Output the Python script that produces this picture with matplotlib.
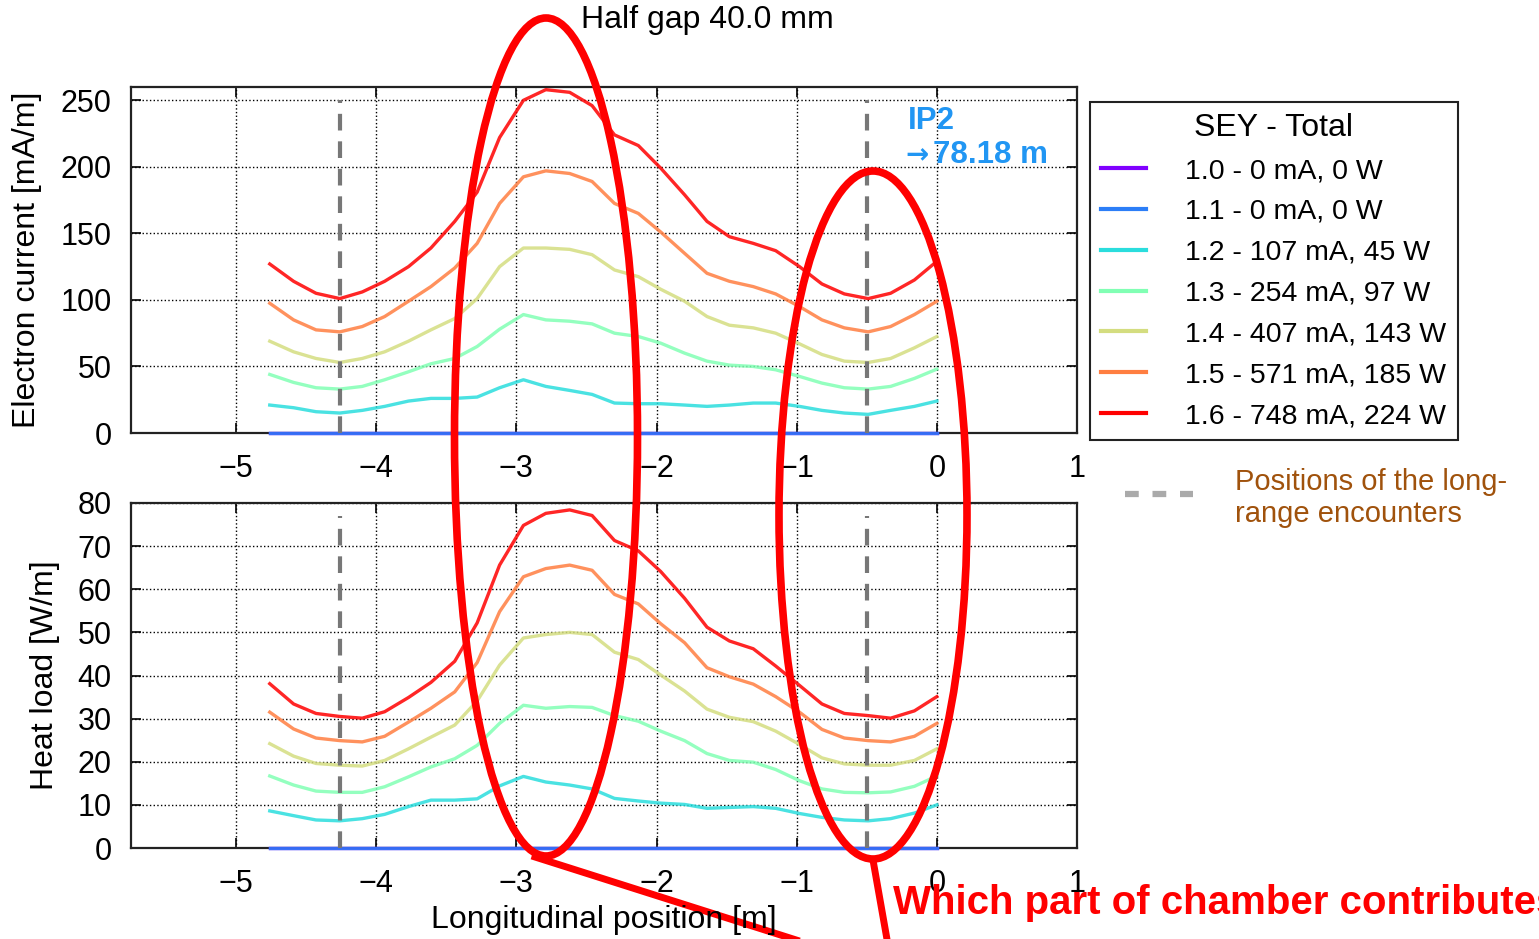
import numpy as np
import matplotlib
matplotlib.use('Agg')
from matplotlib import pyplot as plt
from matplotlib.patches import Ellipse
from matplotlib.lines import Line2D

plt.rcParams['font.family'] = ['Liberation Sans', 'DejaVu Sans']

# longitudinal positions [m]
pos = [-4.76, -4.59, -4.43, -4.26, -4.10, -3.94, -3.77, -3.61, -3.44, -3.28,
       -3.12, -2.95, -2.79, -2.62, -2.46, -2.30, -2.13, -1.97, -1.80, -1.64,
       -1.48, -1.31, -1.15, -0.98, -0.82, -0.66, -0.49, -0.33, -0.16, 0.0]

sey = ['1.0', '1.1', '1.2', '1.3', '1.4', '1.5', '1.6']
labels = ['1.0 - 0 mA, 0 W', '1.1 - 0 mA, 0 W', '1.2 - 107 mA, 45 W', '1.3 - 254 mA, 97 W',
          '1.4 - 407 mA, 143 W', '1.5 - 571 mA, 185 W', '1.6 - 748 mA, 224 W']

# electron current [mA/m]
cur_10 = [0] * 30
cur_11 = [0] * 30
cur_12 = [21, 19, 16, 15, 17, 20, 24, 26, 26, 27, 34, 40, 35, 32, 29, 22.5, 22, 22, 21, 20,
          21, 22.5, 22.5, 20, 17, 15, 14, 17, 20, 24]
cur_13 = [44, 38, 34, 33, 35, 40, 46, 52, 56, 65, 78, 89, 85, 84, 82, 75, 72.5, 67.5, 60, 54,
          51, 50, 47.5, 42.5, 37.5, 34, 33, 35, 41, 48]
cur_14 = [69, 61, 56, 53, 56, 61, 69, 77.5, 86, 101, 125, 139, 139, 138, 134, 122.5, 117.5, 108, 99, 87.5,
          81, 79, 75, 67, 59, 54, 53, 56, 64, 72.5]
cur_15 = [97.5, 85, 77.5, 76, 80, 87.5, 99, 110, 124, 142.5, 172.5, 192.5, 197, 195, 189, 172.5, 165, 151, 135, 120,
          114, 110, 104.5, 95, 85, 79, 76, 80, 89, 99]
cur_16 = [127, 114, 105, 101, 106, 114, 125, 139, 159, 181, 222, 250, 258, 256, 246, 224, 216, 199, 179, 159,
          147.5, 142.5, 137, 125, 112, 104.5, 101, 105, 115, 129]

# heat load [W/m]
heat_10 = [0] * 30
heat_11 = [0] * 30
heat_12 = [8.6, 7.5, 6.5, 6.3, 6.8, 7.8, 9.6, 11.1, 11.1, 11.4, 14.4, 16.6, 15.3, 14.6, 13.7, 11.5, 10.9, 10.4, 10.1, 9.2,
           9.4, 9.6, 9.2, 8.0, 7.1, 6.5, 6.3, 6.8, 8.1, 10.0]
heat_13 = [16.7, 14.6, 13.2, 12.9, 12.9, 14.2, 16.5, 18.8, 20.7, 23.8, 28.9, 33.1, 32.4, 32.8, 32.6, 30.7, 29.4, 27.1, 24.9, 21.9,
           20.3, 19.9, 18.2, 15.6, 13.7, 12.9, 12.8, 13.0, 14.3, 16.7]
heat_14 = [24.2, 21.3, 19.6, 19.2, 19.0, 20.3, 23.0, 25.7, 28.5, 34.1, 42.4, 48.7, 49.5, 50.0, 49.5, 45.4, 43.7, 40.1, 36.4, 32.2,
           30.3, 29.3, 27.1, 24.0, 20.9, 19.5, 19.2, 19.2, 20.3, 23.0]
heat_15 = [31.5, 27.6, 25.5, 24.9, 24.6, 25.9, 29.2, 32.4, 36.2, 43.0, 54.8, 62.9, 64.8, 65.6, 64.4, 58.8, 56.6, 52.0, 47.6, 41.8,
           39.7, 38.0, 35.1, 31.5, 27.5, 25.5, 24.9, 24.6, 25.9, 28.9]
heat_16 = [38.1, 33.4, 31.2, 30.5, 30.1, 31.6, 34.9, 38.4, 43.3, 52.2, 65.6, 74.8, 77.6, 78.4, 77.1, 71.3, 68.9, 64.1, 57.9, 51.2,
           48.0, 46.2, 42.2, 37.7, 33.4, 31.2, 30.7, 30.1, 31.8, 35.1]

lr_pos = [-4.26, -0.50]

currents = [cur_10, cur_11, cur_12, cur_13, cur_14, cur_15, cur_16]
heats = [heat_10, heat_11, heat_12, heat_13, heat_14, heat_15, heat_16]
colors = plt.cm.rainbow(np.linspace(0, 1, len(sey)))

W, H = 1539, 939
fig = plt.figure(figsize=(W / 100, H / 100), dpi=100)
ax1 = fig.add_axes([131 / W, 1 - 433 / H, 946 / W, 346 / H])
ax2 = fig.add_axes([131 / W, 1 - 848 / H, 946 / W, 345 / H])

for ax, data, top, lr_top in [(ax1, currents, 260, 250), (ax2, heats, 80, 77)]:
    for y, c, lab in zip(data, colors, labels):
        ax.plot(pos, y, color=c, linewidth=2.4, alpha=0.85, label=lab, clip_on=False, zorder=3)
    ax.vlines(lr_pos, 0, lr_top, colors='#777777', linestyles=(0, (4, 2.6)), linewidth=3, zorder=4)
    ax.set_xlim(-5.75, 1)
    ax.set_ylim(0, top)
    ax.set_xticks(range(-5, 2))
    ax.grid(True, color='black', linestyle=':', linewidth=1)
    ax.tick_params(direction='in', top=True, right=True, length=7, width=1.2,
                   labelsize=22)
    ax.tick_params(axis='x', pad=15)
    ax.tick_params(axis='y', pad=14)
    for s in ax.spines.values():
        s.set_linewidth(1.6)
        s.set_color('#222222')

ax1.set_yticks(range(0, 251, 50))
ax2.set_yticks(range(0, 81, 10))

fig.text(27 / W, 1 - 260 / H, 'Electron current [mA/m]', rotation=90, ha='center', va='center', fontsize=23)
fig.text(45 / W, 1 - 675 / H, 'Heat load [W/m]', rotation=90, ha='center', va='center', fontsize=23)
fig.text(604 / W, 1 - 920 / H, 'Longitudinal position [m]', ha='center', va='center', fontsize=23)
fig.text(707 / W, 1 - 20 / H, 'Half gap 40.0 mm', ha='center', va='center', fontsize=23)

# IP2 label
fig.text(908 / W, 1 - 121 / H, 'IP2', ha='left', va='center', fontsize=22.5, fontweight='bold', color='#2196f3')
fig.text(905 / W, 1 - 155 / H, '\u2192', ha='left', va='center', fontsize=20, fontweight='bold',
         color='#2196f3', family='DejaVu Sans')
fig.text(933 / W, 1 - 155 / H, '78.18 m', ha='left', va='center', fontsize=22.5, fontweight='bold', color='#2196f3')

# legend
leg = ax1.legend(loc='upper left', bbox_to_anchor=(1090 / W, 1 - 102 / H), bbox_transform=fig.transFigure,
                 title='SEY - Total', fontsize=20.5, title_fontsize=23, fancybox=False, framealpha=1,
                 edgecolor='#222222', handlelength=1.55, handletextpad=1.4, labelspacing=0.52,
                 borderpad=0.4, borderaxespad=0)
leg.get_frame().set_linewidth(1.5)
for h in leg.get_lines():
    h.set_linewidth(3)
    h.set_alpha(1)

# long-range encounter key
fig.add_artist(Line2D([1125 / W, 1193 / W], [1 - 494 / H, 1 - 494 / H], transform=fig.transFigure,
                      color='#aaaaaa', linewidth=4.5, dashes=(2.2, 2.2)))
fig.text(1235 / W, 1 - 498 / H, 'Positions of the long-\nrange encounters', ha='left', va='center',
         fontsize=21, color='#a0520c', linespacing=1.2)

# annotations on top of the slide
fig.add_artist(Ellipse((546 / W, 1 - 437 / H), 183 / W, 838 / H, transform=fig.transFigure,
                       fill=False, edgecolor='red', linewidth=5.5))
fig.add_artist(Ellipse((873 / W, 1 - 515 / H), 188 / W, 688 / H, transform=fig.transFigure,
                       fill=False, edgecolor='red', linewidth=5.5))
fig.add_artist(Line2D([535 / W, 812 / W], [1 - 857 / H, 1 - 945 / H], transform=fig.transFigure,
                      color='red', linewidth=5))
fig.add_artist(Line2D([873 / W, 888 / W], [1 - 860 / H, 1 - 945 / H], transform=fig.transFigure,
                      color='red', linewidth=5))
fig.text(893 / W, 1 - 903 / H, 'Which part of chamber contributes', ha='left', va='center',
         fontsize=29, fontweight='bold', color='red')

fig.savefig('out.png', dpi=100)
